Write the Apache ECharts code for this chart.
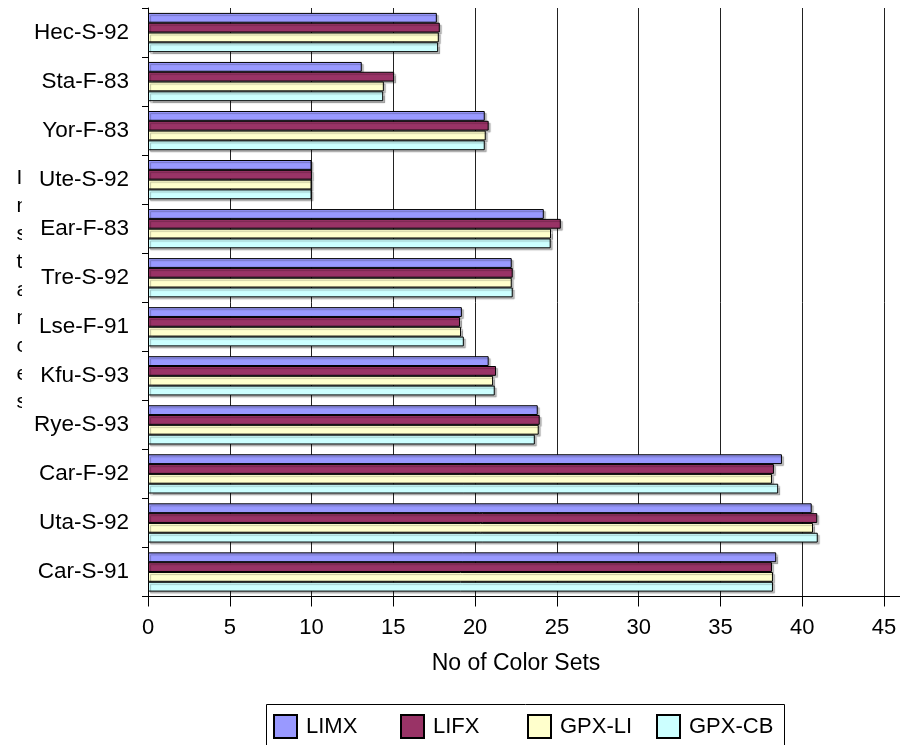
<!DOCTYPE html>
<html>
<head>
<meta charset="utf-8">
<script src="https://cdn.jsdelivr.net/npm/echarts@6/dist/echarts.min.js"></script>
<style>
html,body{margin:0;padding:0;background:#fff;}
#chart{width:900px;height:745px;}
</style>
</head>
<body>
<div id="chart"></div>
<script>
var categories = ['Hec-S-92','Sta-F-83','Yor-F-83','Ute-S-92','Ear-F-83','Tre-S-92','Lse-F-91','Kfu-S-93','Rye-S-93','Car-F-92','Uta-S-92','Car-S-91'];
var limx  = [17.66, 13.07, 20.59, 10.0, 24.20, 22.24, 19.19, 20.83, 23.83, 38.76, 40.58, 38.41];
var lifx  = [17.84, 15.05, 20.83, 10.02, 25.24, 22.30, 19.08, 21.28, 23.95, 38.27, 40.92, 38.15];
var gpxli = [17.78, 14.42, 20.65, 10.0, 24.64, 22.24, 19.14, 21.10, 23.89, 38.15, 40.66, 38.21];
var gpxcb = [17.74, 14.38, 20.59, 10.0, 24.62, 22.30, 19.31, 21.20, 23.65, 38.53, 40.95, 38.21];
var seriesNames = ['LIMX','LIFX','GPX-LI','GPX-CB'];
var seriesColors = ['#9999FF','#993366','#FFFFCC','#CCFFFF'];
var seriesData = [limx, lifx, gpxli, gpxcb];
var xTicks = {min: 0, max: 45, interval: 5};

var FONT = 'Liberation Sans, Arial, sans-serif';
var chart = echarts.init(document.getElementById('chart'), null, {renderer: 'canvas'});

var series = seriesNames.map(function (name, i) {
  return {
    name: name,
    type: 'bar',
    data: seriesData[i],
    barGap: '0%',
    barCategoryGap: '20%',
    itemStyle: {
      color: seriesColors[i],
      borderColor: '#000',
      borderWidth: 1,
      shadowColor: 'rgba(0,0,0,0.25)',
      shadowOffsetX: 2,
      shadowOffsetY: 2,
      shadowBlur: 1
    },
    emphasis: {disabled: true},
    animation: false
  };
});

var legendLefts = [273, 400, 527, 656];
var legends = seriesNames.map(function (name, i) {
  return {
    left: legendLefts[i],
    top: 714,
    orient: 'horizontal',
    itemWidth: 23,
    itemHeight: 23,
    padding: 0,
    icon: 'rect',
    selectedMode: false,
    textStyle: {fontFamily: FONT, fontSize: 22, color: '#000', padding: [0, 0, 0, 4]},
    data: [name]
  };
});

chart.setOption({
  animation: false,
  backgroundColor: '#fff',
  textStyle: {fontFamily: FONT, color: '#000'},
  grid: {left: 148, right: 16, top: 8, bottom: 148.5, containLabel: false},
  xAxis: {
    type: 'value',
    min: xTicks.min, max: xTicks.max, interval: xTicks.interval,
    name: 'No of Color Sets',
    nameLocation: 'middle',
    nameGap: 56,
    nameTextStyle: {fontFamily: FONT, fontSize: 23, color: '#000'},
    axisLine: {show: true, lineStyle: {color: '#000', width: 1}},
    axisTick: {show: true, length: 10, lineStyle: {color: '#000'}},
    axisLabel: {fontFamily: FONT, fontSize: 22, color: '#000', margin: 20},
    splitLine: {show: true, lineStyle: {color: '#222', width: 1}}
  },
  yAxis: {
    type: 'category',
    data: categories,
    inverse: true,
    axisLine: {show: true, lineStyle: {color: '#000', width: 1}},
    axisTick: {show: true, length: 6, lineStyle: {color: '#000'}},
    axisLabel: {fontFamily: FONT, fontSize: 22.5, color: '#000', margin: 19},
    splitLine: {show: false}
  },
  legend: legends,
  graphic: [
    {
      type: 'text',
      left: 16.5,
      top: 164,
      z: 10,
      style: {
        text: 'Instances'.split('').join('\n'),
        font: '21px ' + FONT,
        fill: '#000',
        lineHeight: 28,
        align: 'left'
      }
    },
    {
      type: 'rect',
      z: 11,
      shape: {x: 22, y: 155, width: 9, height: 270},
      style: {fill: '#fff'}
    },
    {
      type: 'line',
      z: 5,
      shape: {x1: 884, y1: 596.5, x2: 900, y2: 596.5},
      style: {stroke: '#000', lineWidth: 1}
    },
    {
      type: 'rect',
      z: 5,
      shape: {x: 266.5, y: 704.5, width: 518, height: 50},
      style: {fill: 'none', stroke: '#000', lineWidth: 1}
    }
  ],
  series: series
});
</script>
</body>
</html>
